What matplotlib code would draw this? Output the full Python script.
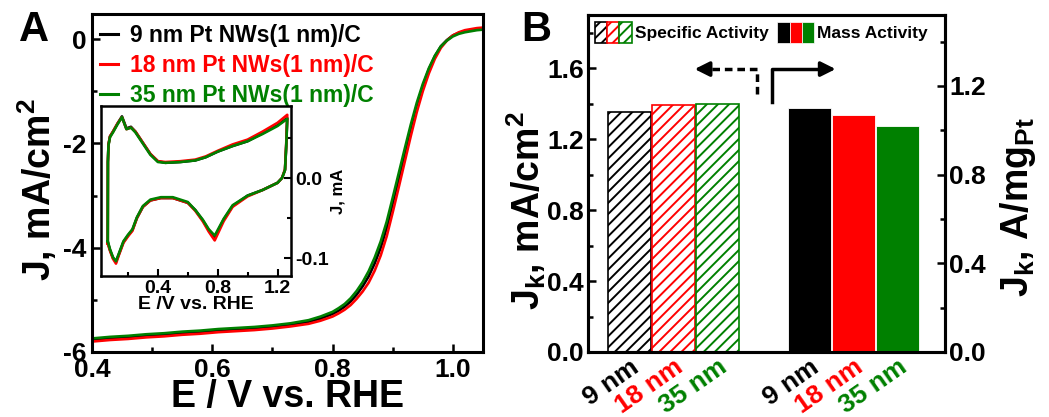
import matplotlib
matplotlib.use("Agg")
import matplotlib.pyplot as plt
from matplotlib.patches import Patch
from matplotlib.lines import Line2D
from matplotlib.legend_handler import HandlerTuple

plt.rcParams['font.family'] = 'Liberation Sans'
plt.rcParams['font.weight'] = 'bold'
plt.rcParams['axes.labelweight'] = 'bold'
plt.rcParams['mathtext.fontset'] = 'custom'
plt.rcParams['mathtext.bf'] = 'Liberation Sans:bold'
plt.rcParams['mathtext.rm'] = 'Liberation Sans:bold'
plt.rcParams['mathtext.default'] = 'bf'
plt.rcParams['hatch.linewidth'] = 1.4

# ---- data ----
names = ['9 nm Pt NWs(1 nm)/C', '18 nm Pt NWs(1 nm)/C', '35 nm Pt NWs(1 nm)/C']
colors = ['black', '#ff0000', '#008000']

# LSV (panel A)
E_lsv = [0.40, 0.43, 0.46, 0.49, 0.52, 0.55, 0.58, 0.61, 0.64, 0.67, 0.70, 0.73,
         0.76, 0.78, 0.80, 0.81, 0.82, 0.83, 0.84, 0.85, 0.86, 0.87, 0.88, 0.89,
         0.90, 0.91, 0.92, 0.93, 0.94, 0.95, 0.96, 0.97, 0.98, 0.99, 1.00, 1.01,
         1.02, 1.03, 1.04, 1.05]
J_9 = [-5.77, -5.74, -5.72, -5.69, -5.67, -5.64, -5.62, -5.59, -5.57, -5.55, -5.52, -5.48,
       -5.42, -5.36, -5.27, -5.21, -5.13, -5.03, -4.90, -4.74, -4.55, -4.30, -4.00, -3.62,
       -3.15, -2.68, -2.20, -1.72, -1.28, -0.90, -0.58, -0.33, -0.14, -0.02, 0.07, 0.12,
       0.15, 0.17, 0.19, 0.20]
J_18 = [-5.80, -5.77, -5.75, -5.72, -5.70, -5.67, -5.65, -5.62, -5.60, -5.58, -5.55, -5.51,
        -5.46, -5.40, -5.32, -5.26, -5.19, -5.10, -4.98, -4.84, -4.67, -4.44, -4.15, -3.78,
        -3.32, -2.84, -2.35, -1.86, -1.40, -1.00, -0.66, -0.38, -0.17, -0.03, 0.07, 0.13,
        0.17, 0.19, 0.21, 0.22]
J_35 = [-5.74, -5.71, -5.69, -5.66, -5.64, -5.61, -5.59, -5.56, -5.54, -5.52, -5.49, -5.45,
        -5.39, -5.32, -5.23, -5.16, -5.08, -4.97, -4.83, -4.66, -4.45, -4.19, -3.88, -3.50,
        -3.04, -2.57, -2.10, -1.64, -1.22, -0.86, -0.56, -0.32, -0.14, -0.03, 0.05, 0.10,
        0.13, 0.15, 0.17, 0.18]

# CV (inset)
E_cv = [0.065, 0.066, 0.07, 0.08, 0.10, 0.13, 0.16, 0.19, 0.22, 0.25, 0.30, 0.35, 0.40,
        0.45, 0.55, 0.65, 0.72, 0.80, 0.90, 1.00, 1.10, 1.20, 1.265, 1.258, 1.25, 1.23,
        1.20, 1.10, 1.00, 0.90, 0.84, 0.78, 0.74, 0.70, 0.65, 0.60, 0.50, 0.42, 0.35,
        0.30, 0.26, 0.23, 0.20, 0.17, 0.14, 0.12, 0.10, 0.08, 0.065]
I_9 = [-0.080, 0.020, 0.042, 0.052, 0.058, 0.068, 0.077, 0.062, 0.064, 0.058, 0.044, 0.030,
       0.021, 0.019, 0.020, 0.022, 0.026, 0.033, 0.040, 0.046, 0.056, 0.066, 0.075, 0.040,
       0.010, 0.000, -0.006, -0.015, -0.022, -0.035, -0.052, -0.074, -0.065, -0.053, -0.040,
       -0.031, -0.025, -0.025, -0.028, -0.036, -0.050, -0.065, -0.072, -0.080, -0.095,
       -0.105, -0.100, -0.090, -0.080]
I_18 = [-0.082, 0.020, 0.042, 0.052, 0.058, 0.068, 0.076, 0.061, 0.063, 0.058, 0.044, 0.030,
        0.021, 0.020, 0.021, 0.023, 0.027, 0.034, 0.042, 0.048, 0.058, 0.069, 0.079, 0.042,
        0.011, 0.000, -0.006, -0.015, -0.023, -0.036, -0.054, -0.078, -0.067, -0.054, -0.041,
        -0.031, -0.025, -0.025, -0.028, -0.036, -0.050, -0.066, -0.073, -0.081, -0.096,
        -0.107, -0.101, -0.091, -0.082]
I_35 = [-0.079, 0.020, 0.041, 0.051, 0.057, 0.067, 0.076, 0.061, 0.063, 0.057, 0.043, 0.029,
        0.020, 0.019, 0.020, 0.022, 0.026, 0.033, 0.040, 0.046, 0.055, 0.065, 0.074, 0.039,
        0.010, 0.000, -0.006, -0.015, -0.022, -0.034, -0.051, -0.072, -0.064, -0.052, -0.040,
        -0.030, -0.024, -0.024, -0.027, -0.035, -0.049, -0.064, -0.071, -0.079, -0.094,
        -0.104, -0.099, -0.089, -0.079]

# activities (panel B)
sizes = ['9 nm', '18 nm', '35 nm']
specific_activity = [1.355, 1.39, 1.40]   # mA/cm2
mass_activity = [1.10, 1.07, 1.02]        # A/mg_Pt
spec_pos = [0, 1, 2]
mass_pos = [4.1, 5.1, 6.1]

fig = plt.figure(figsize=(10.49, 4.17), dpi=100)

# ---------------- panel A ----------------
axA = fig.add_axes([0.0877, 0.1559, 0.3727, 0.8105])
for J, c in zip([J_9, J_18, J_35], colors):
    axA.plot(E_lsv, J, color=c, lw=1.9)
axA.set_xlim(0.4, 1.05)
axA.set_ylim(-6.0, 0.48)
axA.set_xticks([0.4, 0.6, 0.8, 1.0])
axA.set_xticks([0.5, 0.7, 0.9], minor=True)
axA.set_yticks([0, -2, -4, -6])
axA.set_yticks([-1, -3, -5], minor=True)
axA.set_xticklabels(['0.4', '0.6', '0.8', '1.0'])
axA.set_yticklabels(['0', '-2', '-4', '-6'])
axA.tick_params(which='both', direction='in', width=1.8, labelsize=19, pad=4)
axA.tick_params(which='major', length=6)
axA.tick_params(which='minor', length=3.5)
for s in axA.spines.values():
    s.set_linewidth(2.2)
axA.set_xlabel('E / V vs. RHE', fontsize=27, labelpad=-2)
axA.set_ylabel('J, mA/cm$^2$', fontsize=27)
axA.yaxis.set_label_coords(-0.085, 0.48)

handles = [Line2D([], [], color=c, lw=2.2) for c in colors]
leg = axA.legend(handles, names, loc='upper left', bbox_to_anchor=(0.02, 0.97),
                 frameon=False, fontsize=16.5, handlelength=0.8, handletextpad=0.5,
                 labelspacing=0.3, borderpad=0, borderaxespad=0)
for t, c in zip(leg.get_texts(), colors):
    t.set_color(c)

# inset CV
axI = fig.add_axes([0.0963, 0.3381, 0.1811, 0.4077])
for I, c in zip([I_9, I_18, I_35], colors):
    axI.plot(E_cv, I, color=c, lw=1.9)
axI.set_xlim(0.02, 1.29)
axI.set_ylim(-0.1225, 0.09)
axI.set_xticks([0.4, 0.8, 1.2])
axI.set_xticks([0.2, 0.6, 1.0], minor=True)
axI.set_xticklabels(['0.4', '0.8', '1.2'])
axI.set_yticks([0.0, -0.1])
axI.set_yticks([0.05, -0.05], minor=True)
axI.set_yticklabels(['0.0', '-0.1'])
axI.yaxis.tick_right()
axI.yaxis.set_label_position('right')
axI.tick_params(which='both', direction='in', width=1.5, labelsize=14, pad=3)
axI.tick_params(which='major', length=5)
axI.tick_params(which='minor', length=3)
for s in axI.spines.values():
    s.set_linewidth(1.8)
axI.set_xlabel('E /V vs. RHE', fontsize=14, labelpad=-1)
axI.set_ylabel('J, mA', fontsize=12, rotation=90, labelpad=1)

fig.text(0.018, 0.975, 'A', fontsize=30, va='top', ha='left')

# ---------------- panel B ----------------
axB = fig.add_axes([0.5605, 0.1559, 0.3403, 0.8082])
axM = axB.twinx()
for x, v, c in zip(spec_pos, specific_activity, colors):
    axB.bar(x, v, width=0.97, facecolor='white', edgecolor=c, hatch='///', lw=1.2)
for x, v, c in zip(mass_pos, mass_activity, colors):
    axM.bar(x, v, width=0.97, color=c, edgecolor='white', lw=0.6)
axB.set_xlim(-0.94, 7.17)
axB.set_ylim(0, 1.9)
axM.set_ylim(0, 1.52)
axB.set_yticks([0.0, 0.4, 0.8, 1.2, 1.6])
axB.set_yticks([0.2, 0.6, 1.0, 1.4, 1.8], minor=True)
axB.set_yticklabels(['0.0', '0.4', '0.8', '1.2', '1.6'])
axM.set_yticks([0.0, 0.4, 0.8, 1.2])
axM.set_yticks([0.2, 0.6, 1.0, 1.4], minor=True)
axM.set_yticklabels(['0.0', '0.4', '0.8', '1.2'])
for a in (axB, axM):
    a.tick_params(which='both', direction='in', width=1.8, labelsize=19, pad=3)
    a.tick_params(which='major', length=6)
    a.tick_params(which='minor', length=3.5)
    for s in a.spines.values():
        s.set_linewidth(2.2)
axB.set_xticks(spec_pos + mass_pos)
axB.set_xticklabels(sizes + sizes, rotation=35, ha='right', rotation_mode='anchor',
                    fontsize=19)
axB.tick_params(axis='x', length=0, pad=2)
for t, c in zip(axB.get_xticklabels(), colors + colors):
    t.set_color(c)
axB.set_ylabel('J$_\\mathbf{k}$, mA/cm$^2$', fontsize=27)
axB.yaxis.set_label_coords(-0.112, 0.42)
axM.set_ylabel('J$_\\mathbf{k}$, A/mg$_\\mathbf{Pt}$', fontsize=27)
axM.yaxis.set_label_coords(1.15, 0.43)

# arrows pointing to the axes
axB.plot([2.9, 2.9, 1.75], [1.452, 1.595, 1.595], color='black', lw=2.5, ls=(0, (2.2, 1.4)))
axB.annotate('', xy=(1.42, 1.595), xytext=(1.85, 1.595),
             arrowprops=dict(arrowstyle='-|>', color='black', lw=2.5, mutation_scale=22))
axB.plot([3.24, 3.24, 4.4], [1.412, 1.595, 1.595], color='black', lw=2.5)
axB.annotate('', xy=(4.75, 1.595), xytext=(4.3, 1.595),
             arrowprops=dict(arrowstyle='-|>', color='black', lw=2.5, mutation_scale=22))

spec_h = tuple(Patch(facecolor='white', edgecolor=c, hatch='///', lw=1.2) for c in colors)
mass_h = tuple(Patch(facecolor=c, edgecolor='white', lw=0.5) for c in colors)
legB = axB.legend([spec_h, mass_h], ['Specific Activity', 'Mass Activity'],
                  handler_map={tuple: HandlerTuple(ndivide=None, pad=0)},
                  loc='upper left', bbox_to_anchor=(0.02, 0.98), ncol=2, frameon=False,
                  fontsize=12.5, handlelength=2.1, handleheight=1.5, handletextpad=0.2,
                  columnspacing=0.5, borderpad=0, borderaxespad=0)

fig.text(0.497, 0.975, 'B', fontsize=30, va='top', ha='left')

fig.savefig('out.png', dpi=100)
